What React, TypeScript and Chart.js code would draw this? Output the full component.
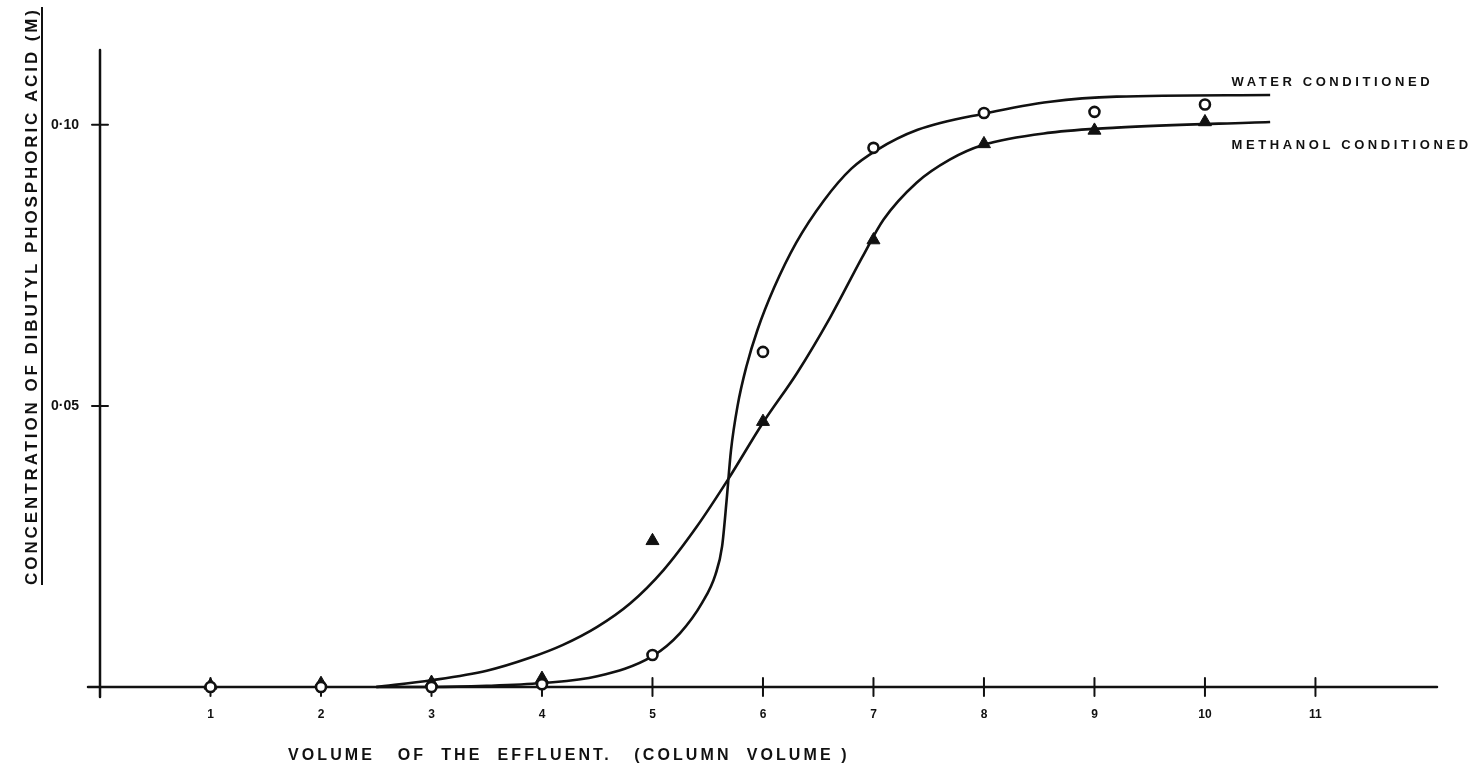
import React, { useEffect, useRef } from "react";
import { Chart, registerables } from "chart.js";

Chart.register(...registerables);

// ---- data ----
const xTickValues = [1, 2, 3, 4, 5, 6, 7, 8, 9, 10, 11];
const xTickLabels = ["1", "2", "3", "4", "5", "6", "7", "8", "9", "10", "11"];
const yTickValues = [0.05, 0.1];
const yTickLabels = ["0·05", "0·10"];

const volumes = [1, 2, 3, 4, 5, 6, 7, 8, 9, 10];
const waterValues = [0, 0, 0, 0.0005, 0.0057, 0.0596, 0.0959, 0.1021, 0.1023, 0.1036];
const methanolValues = [0.0003, 0.0006, 0.0008, 0.0015, 0.026, 0.0472, 0.0795, 0.0966, 0.099, 0.1005];

const waterCurveX = [2.5, 3, 3.5, 4, 4.5, 5.0, 5.25, 5.45, 5.57, 5.63, 5.67, 5.71, 5.77, 5.85, 5.95, 6.1, 6.3, 6.55, 6.8, 7.03, 7.4, 8.03, 8.6, 9.2, 10.59];
const waterCurveY = [0, 0, 0.0002, 0.0007, 0.0019, 0.0055, 0.0096, 0.015, 0.02, 0.025, 0.033, 0.042, 0.05, 0.057, 0.0635, 0.071, 0.079, 0.0865, 0.0922, 0.0955, 0.0991, 0.1021, 0.1041, 0.105, 0.1053];

const methanolCurveX = [2.5, 3, 3.5, 3.89, 4.19, 4.5, 4.8, 5.1, 5.4, 5.68, 6.0, 6.31, 6.61, 6.9, 7.09, 7.39, 7.69, 7.99, 8.6, 9.2, 10.59];
const methanolCurveY = [0, 0.0012, 0.0029, 0.0052, 0.0075, 0.0107, 0.0149, 0.0208, 0.0285, 0.0368, 0.047, 0.0559, 0.0658, 0.0765, 0.0831, 0.0897, 0.0938, 0.0964, 0.0986, 0.0995, 0.1005];

const yTitle = "CONCENTRATION OF DIBUTYL PHOSPHORIC ACID (M)";
const xTitle = "VOLUME   OF  THE  EFFLUENT.   (COLUMN  VOLUME )";
const waterLabel = "WATER CONDITIONED";
const methanolLabel = "METHANOL CONDITIONED";

const INK = "#111";
const FONT = "'Liberation Sans', Arial, sans-serif";

const decor = {
  id: "decor",
  beforeDatasetsDraw(chart: any) {
    const { ctx, scales } = chart;
    const xs = scales.x;
    const ys = scales.y;
    const x0 = xs.getPixelForValue(0);
    const y0 = ys.getPixelForValue(0);
    ctx.save();
    ctx.strokeStyle = INK;
    ctx.lineWidth = 2.5;
    ctx.lineCap = "round";
    ctx.beginPath();
    ctx.moveTo(x0 - 12, y0);
    ctx.lineTo(xs.right, y0);
    ctx.moveTo(x0, ys.top);
    ctx.lineTo(x0, y0 + 10);
    ctx.stroke();
    ctx.lineWidth = 2;
    ctx.beginPath();
    xTickValues.forEach((v) => {
      const px = xs.getPixelForValue(v);
      ctx.moveTo(px, y0 - 9);
      ctx.lineTo(px, y0 + 9);
    });
    yTickValues.forEach((v) => {
      const py = ys.getPixelForValue(v);
      ctx.moveTo(x0 - 8, py);
      ctx.lineTo(x0 + 8, py);
    });
    ctx.stroke();
    ctx.restore();
  },
  afterDraw(chart: any) {
    const { ctx, scales } = chart;
    const xs = scales.x;
    const ys = scales.y;
    ctx.save();
    ctx.fillStyle = INK;
    ctx.strokeStyle = INK;
    ctx.font = `bold 17px ${FONT}`;
    (ctx as any).letterSpacing = "2.9px";
    ctx.translate(32, 296);
    ctx.rotate(-Math.PI / 2);
    ctx.textAlign = "center";
    ctx.textBaseline = "middle";
    ctx.fillText(yTitle, 0, 0);
    const w = ctx.measureText(yTitle).width;
    ctx.lineWidth = 2;
    ctx.beginPath();
    ctx.moveTo(-w / 2, 10);
    ctx.lineTo(w / 2, 10);
    ctx.stroke();
    ctx.restore();

    ctx.save();
    ctx.fillStyle = INK;
    ctx.font = `bold 16px ${FONT}`;
    (ctx as any).letterSpacing = "3.1px";
    ctx.textAlign = "left";
    ctx.textBaseline = "middle";
    ctx.fillText(xTitle, 288, 756);

    ctx.font = `bold 13px ${FONT}`;
    (ctx as any).letterSpacing = "3.6px";
    ctx.fillText(waterLabel, xs.getPixelForValue(10.24), ys.getPixelForValue(0.1075));
    ctx.fillText(methanolLabel, xs.getPixelForValue(10.24), ys.getPixelForValue(0.0964));
    ctx.restore();
  },
};

export default function App() {
  const ref = useRef<HTMLCanvasElement | null>(null);
  useEffect(() => {
    if (!ref.current) return;
    const chart = new Chart(ref.current, {
      type: "scatter",
      data: {
        datasets: [
          {
            label: "Water markers",
            data: volumes.map((v, i) => ({ x: v, y: waterValues[i] })),
            pointStyle: "circle",
            pointRadius: 5,
            pointBorderWidth: 2.6,
            pointBackgroundColor: "#fff",
            pointBorderColor: INK,
            showLine: false,
            clip: false,
          } as any,
          {
            label: "Methanol markers",
            data: volumes.map((v, i) => ({ x: v, y: methanolValues[i] })),
            pointStyle: "triangle",
            pointRadius: 7.5,
            pointBorderWidth: 1,
            pointBackgroundColor: INK,
            pointBorderColor: INK,
            showLine: false,
            clip: false,
          } as any,
          {
            label: "Water conditioned",
            data: waterCurveX.map((x, i) => ({ x, y: waterCurveY[i] })),
            showLine: true,
            borderColor: INK,
            borderWidth: 2.6,
            pointRadius: 0,
            cubicInterpolationMode: "monotone",
            clip: false,
          } as any,
          {
            label: "Methanol conditioned",
            data: methanolCurveX.map((x, i) => ({ x, y: methanolCurveY[i] })),
            showLine: true,
            borderColor: INK,
            borderWidth: 2.6,
            pointRadius: 0,
            cubicInterpolationMode: "monotone",
            clip: false,
          } as any,
        ],
      },
      options: {
        responsive: false,
        animation: false,
        layout: { padding: { top: 50, right: 37, left: 0, bottom: 0 } },
        plugins: { legend: { display: false }, tooltip: { enabled: false } },
        scales: {
          x: {
            type: "linear",
            min: 0,
            max: 12.1,
            grid: { display: false },
            border: { display: false },
            afterBuildTicks: (s: any) => {
              s.ticks = xTickValues.map((v) => ({ value: v }));
            },
            afterFit: (s: any) => {
              s.height = 83;
            },
            ticks: {
              color: INK,
              padding: 12,
              autoSkip: false,
              maxRotation: 0,
              font: { family: FONT, size: 12, weight: "bold" },
              callback: (_v: any, i: number) => xTickLabels[i],
            },
          },
          y: {
            type: "linear",
            min: 0,
            max: 0.1133,
            grid: { display: false },
            border: { display: false },
            afterBuildTicks: (s: any) => {
              s.ticks = yTickValues.map((v) => ({ value: v }));
            },
            afterFit: (s: any) => {
              s.width = 100;
            },
            ticks: {
              color: INK,
              padding: 13,
              font: { family: FONT, size: 14, weight: "bold" },
              callback: (_v: any, i: number) => yTickLabels[i],
            },
          },
        },
      } as any,
      plugins: [decor],
    });
    return () => chart.destroy();
  }, []);

  return (
    <div style={{ position: "fixed", left: 0, top: 0, width: 1474, height: 770, background: "#fff" }}>
      <canvas ref={ref} width={1474} height={770} style={{ display: "block" }} />
    </div>
  );
}
